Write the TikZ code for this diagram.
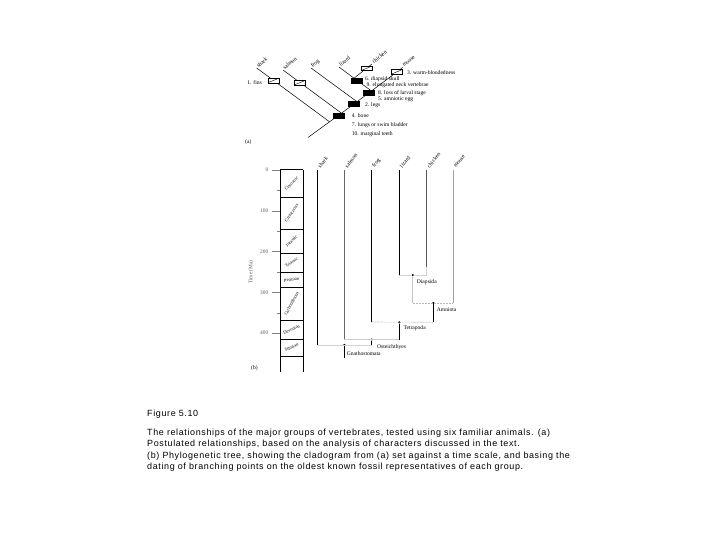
\documentclass[tikz,border=0pt]{standalone}
\usepackage{fontspec}
\setmainfont{Liberation Serif}
\newfontfamily\capfont[LetterSpace=7]{Liberation Sans}
\begin{document}
\begin{tikzpicture}[x=1bp,y=-1bp,
  lbl/.style={inner sep=0pt, font=\fontsize{5.6}{6}\selectfont},
  txl/.style={lbl, anchor=west},
  taxa/.style={lbl, anchor=west, rotate=40},
  taxb/.style={lbl, anchor=west, rotate=50},
  per/.style={inner sep=0pt, font=\fontsize{4.6}{5}\selectfont},
  branch/.style={line width=0.5bp},
  wbox/.style={draw, fill=white, minimum width=11bp, minimum height=4.5bp, inner sep=0pt, line width=0.4bp,
    path picture={\draw[line width=0.4bp] (path picture bounding box.south west) -- (path picture bounding box.north east);}},
  bbox/.style={draw, fill=black, minimum width=11bp, minimum height=5bp, inner sep=0pt},
  vline/.style={line width=0.9bp},
  conn/.style={line width=0.6bp, gray!55, dash pattern=on 2bp off 1bp},
  faint/.style={line width=0.6bp, gray!45},
  stem/.style={line width=0.7bp},
  dotn/.style={circle, fill=black, minimum size=2.4bp, inner sep=0pt},
  captxt/.style={inner sep=0pt, anchor=west, font=\capfont\fontsize{9}{10}\selectfont},
  tickln/.style={line width=0.5bp, gray},
  ticklbl/.style={inner sep=0pt, anchor=east, font=\fontsize{5.4}{6}\selectfont, gray!70!black}
]
\useasboundingbox (0,0) rectangle (720,540);

% ================= (a) cladogram =================
\coordinate (R) at (308,137.5);
\coordinate (S) at (329.5,121.8);
\coordinate (Sh) at (256.7,68);
\coordinate (O) at (341.5,113.2);
\coordinate (Sa) at (283,70);
\coordinate (F) at (357,101.7);
\coordinate (Fr) at (311,68);
\coordinate (A) at (371.5,91);
\coordinate (Mo) at (402.7,67.5);
\coordinate (D) at (354,78.2);
\coordinate (Li) at (339,67);
\coordinate (Ch) at (372,64);

\draw[branch] (R) -- (S) -- (O) -- (F) -- (A) -- (Mo);
\draw[branch] (S) -- (Sh);
\draw[branch] (O) -- (Sa);
\draw[branch] (F) -- (Fr);
\draw[branch] (A) -- (D) -- (Li);
\draw[branch] (D) -- (Ch);

\node[wbox] (bfins) at (273.3,80.5) {};
\node[wbox] (bsal) at (300,82.6) {};
\node[wbox] (bchk) at (366.6,68.3) {};
\node[wbox] (bmou) at (397,71.8) {};
\node[bbox] (bdia) at (357,80.4) {};
\node[bbox] (bamn) at (368.5,93.2) {};
\node[bbox] (blegs) at (354,103.9) {};
\node[bbox] (bbone) at (339,115.7) {};

\node[taxa] (tsh) at ([shift={(0.5,-1.5)}]Sh) {shark};
\node[taxa] (tsa) at ([shift={(0.5,-1.5)}]Sa) {salmon};
\node[taxa] (tfr) at ([shift={(0.5,-1.5)}]Fr) {frog};
\node[taxa] (tli) at ([shift={(0.5,-1.5)}]Li) {lizard};
\node[taxa] (tch) at ([shift={(0.5,-1.5)}]Ch) {chicken};
\node[taxa] (tmo) at ([shift={(0.5,-1.5)}]Mo) {mouse};

\node[lbl, anchor=east] (l1) at (262,82.3) {1. fins};
\node[txl] (l3) at (407,72.7) {3. warm-bloodedness};
\node[txl] (l6) at (365,79.3) {6. diapsid skull};
\node[txl] (l9) at (366.5,85.5) {9. elongated neck vertebrae};
\node[txl] (l8) at (378,93.6) {8. loss of larval stage};
\node[txl] (l5) at (378,99.3) {5. amniotic egg};
\node[txl] (l2) at (365,105.5) {2. legs};
\node[txl] (l4) at (351.7,115.7) {4. bone};
\node[txl] (l7) at (351.7,125) {7. lungs or swim bladder};
\node[txl] (l10) at (351.7,134.3) {10. marginal teeth};
\node[txl] (la) at (245,142.5) {(a)};

% ================= (b) time scale =================
\draw[line width=0.5bp] (280,170) -- (280,372);
\draw[line width=0.5bp] (303,170) -- (303,372);
\draw[line width=1bp] (280,170) -- (303,170);
\foreach \yy in {197,229,253,272,287,320,339}{
  \draw[line width=0.6bp] (280,\yy) -- (303,\yy);
}
\draw[line width=0.9bp] (280,356) -- (303,356);

\foreach \v/\yy in {0/170,100/210.8,200/251.6,300/292.4,400/333.2}{
  \draw[tickln] (271.5,\yy) -- (280,\yy);
  \node[ticklbl] at (268.5,\yy) {\v};
}
\foreach \yy in {190.4,231.2,272,312.8}{
  \draw[tickln] (276.5,\yy) -- (280,\yy);
}
\node[ticklbl, anchor=center, rotate=90] (ttime) at (251,272) {Time (Ma)};

\node[per, rotate=45] (pcen) at (291.5,183.5) {Cenozoic};
\node[per, rotate=55] (pcre) at (291.5,213) {Cretaceous};
\node[per, rotate=45] (pjur) at (291.5,241) {Jurassic};
\node[per, rotate=35] (ptri) at (291.5,262.5) {Triassic};
\node[per, rotate=10] (pper) at (291.5,279.5) {Permian};
\node[per, rotate=62] (pcar) at (291.5,303.5) {Carboniferous};
\node[per, rotate=25] (pdev) at (291.5,329.5) {Devonian};
\node[per, rotate=25] (psil) at (291.5,347.5) {Silurian};

% taxa verticals
\coordinate (bsh0) at (317.3,170); \coordinate (bsh1) at (317.3,345);
\coordinate (bsa0) at (344.3,170); \coordinate (bsa1) at (344.3,339.5);
\coordinate (bfr0) at (371.7,170); \coordinate (bfr1) at (371.7,322);
\coordinate (bli0) at (399.3,170); \coordinate (bli1) at (399.3,275);
\coordinate (bch0) at (426.5,170); \coordinate (bch1) at (426.5,267);
\coordinate (bmo0) at (453.3,170); \coordinate (bmo1) at (453.3,303);

\draw[vline] (bsh0) -- (bsh1);
\draw[vline, gray!80!black, line width=0.7bp] (bsa0) -- (bsa1);
\draw[vline] (bfr0) -- (bfr1);
\draw[vline] (bli0) -- (bli1);
\draw[vline, gray!70!black] (bch0) -- (bch1);
\draw[vline, gray!75, line width=1.4bp] (bmo0) -- (bmo1);

\node[taxb] (ush) at ([shift={(1.5,-3)}]bsh0) {shark};
\node[taxb] (usa) at ([shift={(1.5,-3)}]bsa0) {salmon};
\node[taxb] (ufr) at ([shift={(1.5,-3)}]bfr0) {frog};
\node[taxb] (uli) at ([shift={(1.5,-3)}]bli0) {lizard};
\node[taxb] (uch) at ([shift={(1.5,-3)}]bch0) {chicken};
\node[taxb] (umo) at ([shift={(1.5,-3)}]bmo0) {mouse};

% clade nodes
\node[dotn] (ndia) at (412.7,275) {};
\node[dotn] (namn) at (433.3,303) {};
\node[dotn] (ntet) at (399.3,322.3) {};
\node[dotn] (nost) at (371.7,339.5) {};
\node[dotn] (ngna) at (344.3,345) {};

\coordinate (ediaB) at (412.7,303);
\coordinate (eamnB) at (433.3,322.3);
\coordinate (etetB) at (399.3,339.5);
\coordinate (eostB) at (371.7,345);
\coordinate (egnaB) at (344.3,358);
\coordinate (chB) at (426.5,275);

\draw[faint, gray!35] (bli1) -- (ndia) -- (chB) -- (bch1);
\draw[faint] (ndia) -- (ediaB);
\draw[conn] (ediaB) -- (bmo1);
\draw[stem] (namn) -- (eamnB);
\draw[conn] (bfr1) -- (eamnB);
\draw[stem] (ntet) -- (etetB);
\draw[faint, gray!40] (bsa1) -- (etetB);
\draw[stem] (nost) -- (eostB);
\draw[faint, gray!35] (bsh1) -- (eostB);
\draw[stem] (ngna) -- (egnaB);

\node[txl] (cdia) at (416.7,282) {Diapsida};
\node[txl] (camn) at (436.7,309.5) {Amniota};
\node[txl] (ctet) at (403.3,328.5) {Tetrapoda};
\node[txl] (cost) at (377,346.7) {Osteichthyes};
\node[txl] (cgna) at (346.7,353.3) {Gnathostomata};
\node[txl] (lb) at (251,368.3) {(b)};

% ================= caption =================
\node[captxt] (fig) at (147,414.3) {Figure 5.10};
\node[captxt] (c1) at (147,433.3) {The relationships of the major groups of vertebrates, tested using six familiar animals. (a)};
\node[captxt] (c2) at (147,444.5) {Postulated relationships, based on the analysis of characters discussed in the text.};
\node[captxt] (c3) at (147,455.8) {(b) Phylogenetic tree, showing the cladogram from (a) set against a time scale, and basing the};
\node[captxt] (c4) at (147,466.8) {dating of branching points on the oldest known fossil representatives of each group.};
\end{tikzpicture}
\end{document}
